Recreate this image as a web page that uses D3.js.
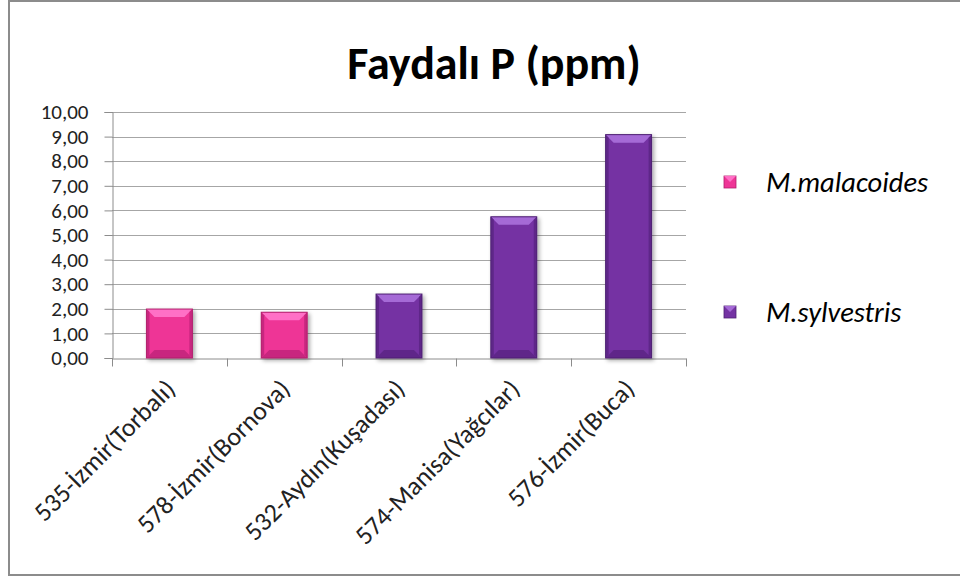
<!DOCTYPE html>
<html>
<head>
<meta charset="utf-8">
<script src="https://cdn.jsdelivr.net/npm/d3@7"></script>
<style>
  html, body { margin: 0; padding: 0; background: #fff; }
  svg { display: block; }
</style>
</head>
<body>
<svg id="chart" width="960" height="579"></svg>
<script>
// Sample sites, the species found at each, and plant-available phosphorus (ppm)
const categories = ["535-İzmir(Torbalı)", "578-İzmir(Bornova)", "532-Aydın(Kuşadası)", "574-Manisa(Yağcılar)", "576-İzmir(Buca)"];
const siteSpecies = ["M.malacoides", "M.malacoides", "M.sylvestris", "M.sylvestris", "M.sylvestris"];
const values = [1.99, 1.86, 2.60, 5.74, 9.08];
const seriesNames = ["M.malacoides", "M.sylvestris"];
const yTicks = [0, 1, 2, 3, 4, 5, 6, 7, 8, 9, 10];
const titleText = "Faydalı P (ppm)";

const palette = {
  "M.malacoides": { body: "#ee3596", light: "#ff6fc6", dark: "#b11f6c", edge: "#c8287f" },
  "M.sylvestris": { body: "#7433a3", light: "#a56ad6", dark: "#4e2173", edge: "#5f2889" }
};

const font = "Carlito, Calibri, Lato, 'Open Sans', sans-serif";
const svg = d3.select("#chart");

// outer chart frame (right edge runs past the canvas)
svg.append("rect")
  .attr("x", 9).attr("y", 1).attr("width", 960).attr("height", 574)
  .attr("fill", "#fff").attr("stroke", "#8c8c8c").attr("stroke-width", 2);

const plot = { left: 112, right: 686, top: 112, bottom: 358 };

const x = d3.scaleBand().domain(categories).range([plot.left, plot.right]).paddingInner(0).paddingOuter(0);
const y = d3.scaleLinear().domain([0, 10]).range([plot.bottom, plot.top]);

// soft shadow under the bars
const defs = svg.append("defs");
const shadow = defs.append("filter").attr("id", "shadow").attr("x", "-20%").attr("y", "-10%").attr("width", "150%").attr("height", "130%");
shadow.append("feGaussianBlur").attr("in", "SourceAlpha").attr("stdDeviation", 2);
shadow.append("feOffset").attr("dx", 2).attr("dy", 2).attr("result", "b");
shadow.append("feComponentTransfer").append("feFuncA").attr("type", "linear").attr("slope", 0.35);
const merge = shadow.append("feMerge");
merge.append("feMergeNode");
merge.append("feMergeNode").attr("in", "SourceGraphic");

// horizontal gridlines
svg.append("g").selectAll("line").data(yTicks.filter(d => d > 0)).join("line")
  .attr("x1", plot.left).attr("x2", plot.right)
  .attr("y1", d => Math.round(y(d)) + 0.5).attr("y2", d => Math.round(y(d)) + 0.5)
  .attr("stroke", "#a6a6a6").attr("stroke-width", 1);

// y axis
const yAxis = svg.append("g").attr("transform", `translate(${plot.left + 0.5},0)`)
  .call(d3.axisLeft(y).tickValues(yTicks).tickSize(8).tickPadding(16)
    .tickFormat(d => d3.format(".2f")(d).replace(".", ",")));
yAxis.select(".domain").attr("stroke", "#8c8c8c");
yAxis.selectAll(".tick line").attr("stroke", "#8c8c8c");
yAxis.selectAll(".tick text").attr("font-family", font).attr("font-size", 21).attr("fill", "#222");

// x axis
const xAxis = svg.append("g").attr("transform", `translate(0,${Math.round(plot.bottom) + 0.5})`)
  .call(d3.axisBottom(x).tickSizeInner(0).tickSizeOuter(0).tickFormat(""));
xAxis.select(".domain").attr("stroke", "#8c8c8c");
xAxis.selectAll(".tick").remove();
// category separators
xAxis.selectAll("line.sep").data(categories.concat([null])).join("line")
  .attr("class", "sep")
  .attr("x1", (d, i) => Math.round(plot.left + i * x.step()) + 0.5)
  .attr("x2", (d, i) => Math.round(plot.left + i * x.step()) + 0.5)
  .attr("y1", 0).attr("y2", 8).attr("stroke", "#8c8c8c");

// category labels, rotated
svg.append("g").selectAll("text").data(categories).join("text")
  .attr("transform", d => `translate(${x(d) + x.bandwidth() / 2 + 1},${plot.bottom + 26}) rotate(-45)`)
  .attr("text-anchor", "end").attr("dy", "0.35em")
  .attr("font-family", font).attr("font-size", 26).attr("fill", "#222")
  .text(d => d);

// bevelled bars
const barW = x.bandwidth() * 0.40;
const bev = 8;
const bars = svg.append("g").selectAll("g").data(categories.map((c, i) => ({ c, v: values[i], s: siteSpecies[i] }))).join("g")
  .attr("filter", "url(#shadow)");

bars.each(function (d) {
  const g = d3.select(this);
  const col = palette[d.s];
  const x0 = x(d.c) + (x.bandwidth() - barW) / 2, x1 = x0 + barW;
  const y0 = y(d.v), y1 = y(0);
  g.append("rect").attr("x", x0).attr("y", y0).attr("width", barW).attr("height", y1 - y0).attr("fill", col.body);
  // top bevel
  g.append("path").attr("d", `M${x0},${y0}L${x1},${y0}L${x1 - bev},${y0 + bev}L${x0 + bev},${y0 + bev}Z`).attr("fill", col.light);
  // bottom bevel
  g.append("path").attr("d", `M${x0},${y1}L${x1},${y1}L${x1 - bev},${y1 - bev}L${x0 + bev},${y1 - bev}Z`).attr("fill", col.edge);
  // side bevels
  g.append("path").attr("d", `M${x0},${y0}L${x0 + 3},${y0 + 3}L${x0 + 3},${y1 - 3}L${x0},${y1}Z`).attr("fill", col.edge);
  g.append("path").attr("d", `M${x1},${y0}L${x1 - 3},${y0 + 3}L${x1 - 3},${y1 - 3}L${x1},${y1}Z`).attr("fill", col.edge);
  g.append("rect").attr("x", x0).attr("y", y0).attr("width", barW).attr("height", y1 - y0)
    .attr("fill", "none").attr("stroke", col.dark).attr("stroke-width", 1);
});

// title
svg.append("text").attr("x", 494).attr("y", 79).attr("text-anchor", "middle")
  .attr("font-family", font).attr("font-weight", "bold").attr("font-size", 46).attr("fill", "#000")
  .text(titleText);

// legend
const legendY = [182, 312];
const leg = svg.append("g").selectAll("g").data(seriesNames).join("g")
  .attr("transform", (d, i) => `translate(730,${legendY[i]})`);
leg.append("rect").attr("x", -6).attr("y", -6).attr("width", 12).attr("height", 12)
  .attr("fill", d => palette[d].body).attr("stroke", d => palette[d].dark).attr("stroke-width", 0.8);
leg.append("path").attr("d", "M-6,-6L6,-6L0,0Z").attr("fill", d => palette[d].light);
leg.append("text").attr("x", 36).attr("y", 0).attr("dy", "0.35em")
  .attr("font-family", font).attr("font-style", "italic").attr("font-size", 28.5).attr("fill", "#000")
  .text(d => d);
</script>
</body>
</html>
